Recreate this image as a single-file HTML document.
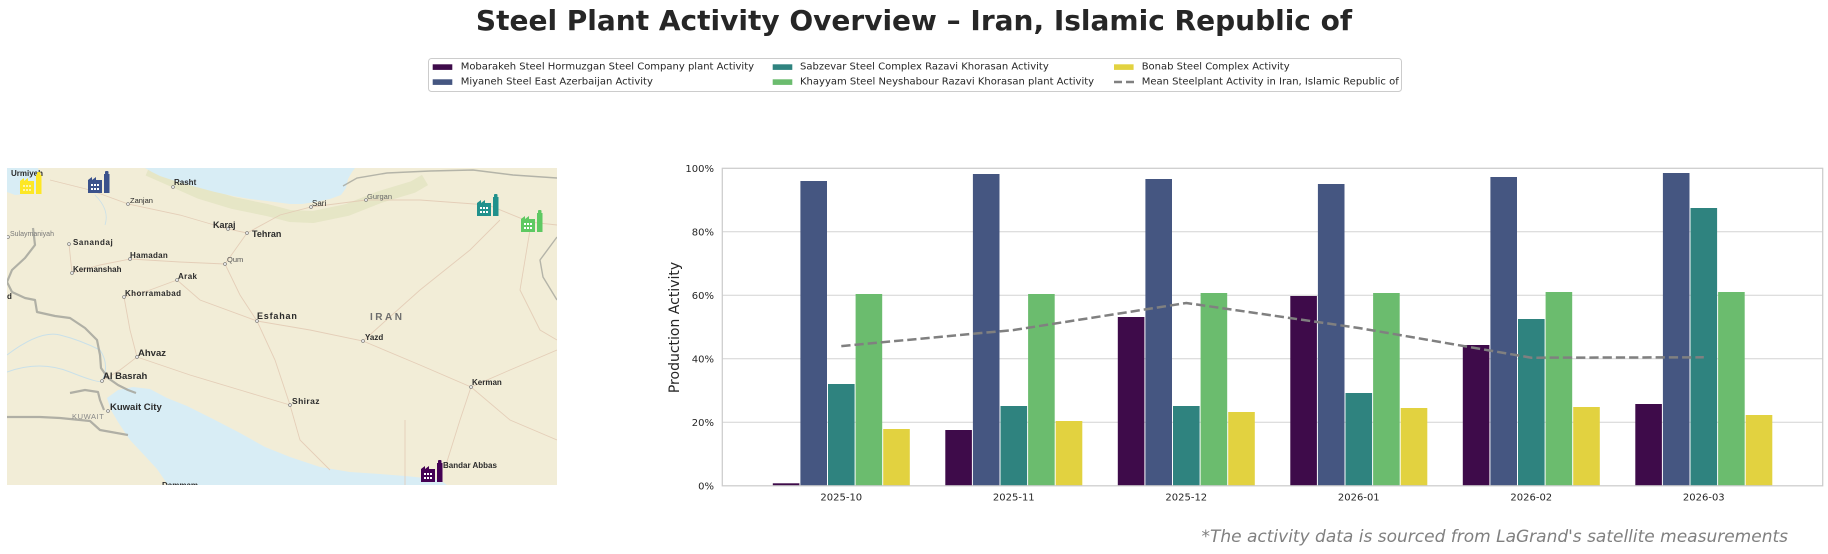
<!DOCTYPE html>
<html><head><meta charset="utf-8">
<style>
html,body{margin:0;padding:0;background:#fff;}
svg{display:block;}
text{font-family:"DejaVu Sans","Liberation Sans",sans-serif;}
.ml{font-family:"Liberation Sans","DejaVu Sans",sans-serif;font-weight:bold;fill:#2b2b2b;}
</style></head>
<body>
<svg width="1828" height="554" viewBox="0 0 1828 554" xmlns="http://www.w3.org/2000/svg">
<rect x="0" y="0" width="1828" height="554" fill="#fff"/>

<!-- Title -->
<text x="914" y="30" text-anchor="middle" font-size="28" font-weight="bold" fill="#262626">Steel Plant Activity Overview – Iran, Islamic Republic of</text>

<!-- Legend -->
<rect x="428.5" y="58.5" width="973" height="33" rx="3" ry="3" fill="#fff" stroke="#cccccc" stroke-width="1"/>
<rect x="432.7" y="64.3" width="19.6" height="5.6" fill="#3e0b4a"/>
<text x="460.7" y="69.6" font-size="10" fill="#262626">Mobarakeh Steel Hormuzgan Steel Company plant Activity</text>
<rect x="432.7" y="79.3" width="19.6" height="5.6" fill="#455681"/>
<text x="460.7" y="84.6" font-size="10" fill="#262626">Miyaneh Steel East Azerbaijan Activity</text>
<rect x="772.7" y="64.3" width="19.6" height="5.6" fill="#2f837f"/>
<text x="800" y="69.6" font-size="10" fill="#262626">Sabzevar Steel Complex Razavi Khorasan Activity</text>
<rect x="772.7" y="79.3" width="19.6" height="5.6" fill="#6bbc6e"/>
<text x="800" y="84.6" font-size="10" fill="#262626">Khayyam Steel Neyshabour Razavi Khorasan plant Activity</text>
<rect x="1114" y="64.3" width="19.6" height="5.6" fill="#e2d240"/>
<text x="1141.7" y="69.6" font-size="10" fill="#262626">Bonab Steel Complex Activity</text>
<line x1="1114" y1="82" x2="1134" y2="82" stroke="#808080" stroke-width="2.5" stroke-dasharray="8 4"/>
<text x="1141.7" y="84.6" font-size="10" fill="#262626">Mean Steelplant Activity in Iran, Islamic Republic of</text>

<!-- MAP -->
<defs>
<clipPath id="mc"><rect x="7" y="168" width="550" height="317"/></clipPath>
</defs>
<g clip-path="url(#mc)">
<rect x="7" y="168" width="550" height="317" fill="#f2edd7"/>
<!-- green band along Caspian -->
<path d="M148,170 L173,181 L200,193 L233,203 L267,210 L290,216 L313,217 L347,210 L380,197 L413,187 L425,180" fill="none" stroke="#e1e3c0" stroke-width="12" stroke-linejoin="round" opacity="0.75"/>
<!-- Caspian -->
<path d="M145,168 L152,172 L160,176 L172,180 L186,184 L200,188 L215,192 L233,196 L250,199 L267,201 L290,204 L302,204 L315,202 L330,199 L341,195 L346,188 L348,179 L352,172 L355,168 Z" fill="#d8edf5"/>
<!-- Lake Urmia -->
<path d="M7,168 L38,168 L41,178 L37,188 L28,194 L15,195 L7,192 Z" fill="#d8edf5"/>
<!-- Persian Gulf -->
<path d="M107,398 L118,390 L133,387 L150,389 L167,398 L187,406 L213,419 L240,433 L265,447 L290,457 L320,467 L350,472 L380,474 L405,476 L425,478 L440,480 L447,485 L168,485 L157,469 L145,456 L130,440 L118,422 L111,410 Z" fill="#d8edf5"/>
<!-- rivers -->
<path d="M7,355 Q40,330 60,335 T100,350 Q110,365 102,381" fill="none" stroke="#c9e0e9" stroke-width="1"/>
<path d="M7,372 Q40,360 70,372 T102,381" fill="none" stroke="#c9e0e9" stroke-width="1"/>
<path d="M95,195 Q110,210 105,225" fill="none" stroke="#c9e0e9" stroke-width="0.8"/>
<!-- roads -->
<g fill="none" stroke="#e2c9b3" stroke-width="0.9" opacity="0.85">
<path d="M247,233 L225,264 L240,295 L257,321 L275,360 L290,405 L300,440 L330,470"/>
<path d="M257,321 L310,330 L363,341 L420,365 L471,387 L460,420 L445,468"/>
<path d="M247,233 L228,229 L180,215 L128,204 L90,190 L50,180"/>
<path d="M247,233 L280,215 L311,207 L366,200 L420,200 L488,205 L530,222 L557,225"/>
<path d="M72,273 L100,265 L130,259 L180,262 L225,264"/>
<path d="M124,297 L130,330 L137,357 L120,370 L102,381"/>
<path d="M177,280 L150,290 L124,297"/>
<path d="M290,405 L240,390 L190,375 L137,357"/>
<path d="M471,387 L510,370 L557,350"/>
<path d="M471,387 L510,420 L557,440"/>
<path d="M363,341 L420,290 L470,250 L500,220"/>
<path d="M257,321 L200,300 L177,280"/>
<path d="M69,244 L72,273"/>
<path d="M405,420 L405,485"/>
<path d="M530,230 L520,290 L540,330 L557,340"/>
</g>
<!-- borders -->
<g fill="none" stroke="#a9a9a0" stroke-width="2.2" stroke-linejoin="round" opacity="0.9">
<path d="M33,228 L35,245 L25,258 L12,270 L7,282 L12,292 L25,298 L35,300 L37,312 L55,316 L70,318 L85,328 L97,340 L100,355 L101,368 L108,378 L118,385 L128,390 L136,393"/>
<path d="M7,417 L40,417 L60,418 L90,421 L100,430 L128,435"/>
<path d="M70,393 L85,390 L98,392 L100,400 L104,410"/>
</g>
<g fill="none" stroke="#a9a9a0" stroke-width="1.4" opacity="0.85">
<path d="M343,186 L357,178 L387,173 L430,171 L473,170 L513,175 L557,178"/>
<path d="M557,237 L540,260 L543,277 L557,300"/>
</g>
<!-- city markers -->
<g fill="#fff" stroke="#777" stroke-width="0.7">
<circle cx="173" cy="187" r="1.4"/><circle cx="128" cy="204" r="1.4"/><circle cx="228" cy="229" r="1.4"/>
<circle cx="247" cy="233" r="1.4"/><circle cx="8" cy="237" r="1.4"/><circle cx="69" cy="244" r="1.4"/>
<circle cx="130" cy="259" r="1.4"/><circle cx="72" cy="273" r="1.4"/><circle cx="177" cy="280" r="1.4"/>
<circle cx="225" cy="264" r="1.4"/><circle cx="124" cy="297" r="1.4"/><circle cx="257" cy="321" r="1.4"/>
<circle cx="137" cy="357" r="1.4"/><circle cx="102" cy="381" r="1.4"/><circle cx="108" cy="411" r="1.4"/>
<circle cx="311" cy="207" r="1.4"/><circle cx="366" cy="200" r="1.4"/><circle cx="363" cy="341" r="1.4"/>
<circle cx="471" cy="387" r="1.4"/><circle cx="290" cy="405" r="1.4"/>
</g>
<!-- city labels -->
<text class="ml" x="43" y="176" font-size="8" text-anchor="end">Urmiyeh</text>
<text class="ml" x="174" y="185" font-size="8">Rasht</text>
<text class="ml" x="130" y="203" font-size="7.5" style="font-weight:normal">Zanjan</text>
<text class="ml" x="213" y="228" font-size="9">Karaj</text>
<text class="ml" x="252" y="237" font-size="9">Tehran</text>
<text class="ml" x="10" y="236" font-size="7" style="font-weight:normal;fill:#777">Sulaymaniyah</text>
<text class="ml" x="73" y="245" font-size="8" letter-spacing="0.6">Sanandaj</text>
<text class="ml" x="130" y="258" font-size="8" letter-spacing="0.3">Hamadan</text>
<text class="ml" x="73" y="272" font-size="8">Kermanshah</text>
<text class="ml" x="178" y="279" font-size="8" letter-spacing="0.4">Arak</text>
<text class="ml" x="227" y="262" font-size="7.5" style="font-weight:normal;fill:#555">Qum</text>
<text class="ml" x="125" y="296" font-size="8" letter-spacing="0.4">Khorramabad</text>
<text class="ml" x="7" y="299" font-size="8">d</text>
<text class="ml" x="257" y="319" font-size="9" letter-spacing="0.8">Esfahan</text>
<text class="ml" x="370" y="320" font-size="10" letter-spacing="2.5" style="fill:#6e6e6e">IRAN</text>
<text class="ml" x="365" y="340" font-size="8">Yazd</text>
<text class="ml" x="138" y="356" font-size="9.5">Ahvaz</text>
<text class="ml" x="103" y="379" font-size="9.5">Al Basrah</text>
<text class="ml" x="472" y="385" font-size="8">Kerman</text>
<text class="ml" x="292" y="404" font-size="8.5" letter-spacing="0.4">Shiraz</text>
<text class="ml" x="110" y="410" font-size="9.5">Kuwait City</text>
<text class="ml" x="72" y="419" font-size="7.5" letter-spacing="0.6" style="font-weight:normal;fill:#888">KUWAIT</text>
<text class="ml" x="312" y="206" font-size="8" style="font-weight:normal">Sari</text>
<text class="ml" x="367" y="199" font-size="7.5" style="font-weight:normal;fill:#666">Gurgan</text>
<text class="ml" x="443" y="468" font-size="8">Bandar Abbas</text>
<text class="ml" x="162" y="488" font-size="8">Dammam</text>

<!-- factory icons -->
<g transform="translate(20,172)" fill="#fde725">
<path d="M0,22 V9 L4,6 V9 L8,6 V9 L14,9 V22 Z"/><rect x="16" y="3" width="5.5" height="19"/><rect x="17" y="0" width="3.5" height="3.5" rx="1"/>
<g fill="#fff" opacity="0.6"><rect x="3" y="13" width="2" height="2"/><rect x="6" y="13" width="2" height="2"/><rect x="9" y="13" width="2" height="2"/><rect x="3" y="17" width="2" height="2"/><rect x="6" y="17" width="2" height="2"/><rect x="9" y="17" width="2" height="2"/></g>
</g>
<g transform="translate(88,171)" fill="#3b528b">
<path d="M0,22 V9 L4,6 V9 L8,6 V9 L14,9 V22 Z"/><rect x="16" y="3" width="5.5" height="19"/><rect x="17" y="0" width="3.5" height="3.5" rx="1"/>
<g fill="#fff"><rect x="3" y="13" width="2" height="2"/><rect x="6" y="13" width="2" height="2"/><rect x="9" y="13" width="2" height="2"/><rect x="3" y="17" width="2" height="2"/><rect x="6" y="17" width="2" height="2"/><rect x="9" y="17" width="2" height="2"/></g>
</g>
<g transform="translate(477,194)" fill="#21918c">
<path d="M0,22 V9 L4,6 V9 L8,6 V9 L14,9 V22 Z"/><rect x="16" y="3" width="5.5" height="19"/><rect x="17" y="0" width="3.5" height="3.5" rx="1"/>
<g fill="#fff"><rect x="3" y="13" width="2" height="2"/><rect x="6" y="13" width="2" height="2"/><rect x="9" y="13" width="2" height="2"/><rect x="3" y="17" width="2" height="2"/><rect x="6" y="17" width="2" height="2"/><rect x="9" y="17" width="2" height="2"/></g>
</g>
<g transform="translate(521,210)" fill="#5ec962">
<path d="M0,22 V9 L4,6 V9 L8,6 V9 L14,9 V22 Z"/><rect x="16" y="3" width="5.5" height="19"/><rect x="17" y="0" width="3.5" height="3.5" rx="1"/>
<g fill="#fff"><rect x="3" y="13" width="2" height="2"/><rect x="6" y="13" width="2" height="2"/><rect x="9" y="13" width="2" height="2"/><rect x="3" y="17" width="2" height="2"/><rect x="6" y="17" width="2" height="2"/><rect x="9" y="17" width="2" height="2"/></g>
</g>
<g transform="translate(421,460)" fill="#440154">
<path d="M0,22 V9 L4,6 V9 L8,6 V9 L14,9 V22 Z"/><rect x="16" y="3" width="5.5" height="19"/><rect x="17" y="0" width="3.5" height="3.5" rx="1"/>
<g fill="#fff"><rect x="3" y="13" width="2" height="2"/><rect x="6" y="13" width="2" height="2"/><rect x="9" y="13" width="2" height="2"/><rect x="3" y="17" width="2" height="2"/><rect x="6" y="17" width="2" height="2"/><rect x="9" y="17" width="2" height="2"/></g>
</g>
</g>

<!-- CHART -->
<!-- gridlines -->
<g stroke="#d4d4d4" stroke-width="1">
<line x1="722.3" y1="422.3" x2="1822.7" y2="422.3"/>
<line x1="722.3" y1="358.8" x2="1822.7" y2="358.8"/>
<line x1="722.3" y1="295.3" x2="1822.7" y2="295.3"/>
<line x1="722.3" y1="231.8" x2="1822.7" y2="231.8"/>
</g>

<!-- bars -->
<g>
<!-- G1 -->
<rect x="772.8" y="483.3" width="26.6" height="2.5" fill="#3e0b4a"/>
<rect x="800.4" y="181" width="26.6" height="304.8" fill="#455681"/>
<rect x="828.0" y="384" width="26.6" height="101.8" fill="#2f837f"/>
<rect x="855.6" y="294" width="26.6" height="191.8" fill="#6bbc6e"/>
<rect x="883.2" y="429" width="26.6" height="56.8" fill="#e2d240"/>
<!-- G2 -->
<rect x="945.3" y="430" width="26.6" height="55.8" fill="#3e0b4a"/>
<rect x="972.9" y="174" width="26.6" height="311.8" fill="#455681"/>
<rect x="1000.5" y="406" width="26.6" height="79.8" fill="#2f837f"/>
<rect x="1028.1" y="294" width="26.6" height="191.8" fill="#6bbc6e"/>
<rect x="1055.7" y="421" width="26.6" height="64.8" fill="#e2d240"/>
<!-- G3 -->
<rect x="1117.8" y="317" width="26.6" height="168.8" fill="#3e0b4a"/>
<rect x="1145.4" y="179" width="26.6" height="306.8" fill="#455681"/>
<rect x="1173.0" y="406" width="26.6" height="79.8" fill="#2f837f"/>
<rect x="1200.6" y="293" width="26.6" height="192.8" fill="#6bbc6e"/>
<rect x="1228.2" y="412" width="26.6" height="73.8" fill="#e2d240"/>
<!-- G4 -->
<rect x="1290.3" y="296" width="26.6" height="189.8" fill="#3e0b4a"/>
<rect x="1317.9" y="184" width="26.6" height="301.8" fill="#455681"/>
<rect x="1345.5" y="393" width="26.6" height="92.8" fill="#2f837f"/>
<rect x="1373.1" y="293" width="26.6" height="192.8" fill="#6bbc6e"/>
<rect x="1400.7" y="408" width="26.6" height="77.8" fill="#e2d240"/>
<!-- G5 -->
<rect x="1462.8" y="345" width="26.6" height="140.8" fill="#3e0b4a"/>
<rect x="1490.4" y="177" width="26.6" height="308.8" fill="#455681"/>
<rect x="1518.0" y="319" width="26.6" height="166.8" fill="#2f837f"/>
<rect x="1545.6" y="292" width="26.6" height="193.8" fill="#6bbc6e"/>
<rect x="1573.2" y="407" width="26.6" height="78.8" fill="#e2d240"/>
<!-- G6 -->
<rect x="1635.3" y="404" width="26.6" height="81.8" fill="#3e0b4a"/>
<rect x="1662.9" y="173" width="26.6" height="312.8" fill="#455681"/>
<rect x="1690.5" y="208" width="26.6" height="277.8" fill="#2f837f"/>
<rect x="1718.1" y="292" width="26.6" height="193.8" fill="#6bbc6e"/>
<rect x="1745.7" y="415" width="26.6" height="70.8" fill="#e2d240"/>
</g>

<!-- mean line -->
<polyline points="841.3,346.1 1013.8,330 1186.3,303 1358.8,328 1531.3,357.7 1703.8,357.3" fill="none" stroke="#808080" stroke-width="2.5" stroke-dasharray="9.25 4"/>

<!-- spines -->
<rect x="722.3" y="168.3" width="1100.4" height="317.5" fill="none" stroke="#cccccc" stroke-width="1.25"/>

<!-- y tick labels -->
<g font-size="10" fill="#262626" text-anchor="end">
<text x="714" y="171.9">100%</text>
<text x="714" y="235.4">80%</text>
<text x="714" y="298.9">60%</text>
<text x="714" y="362.4">40%</text>
<text x="714" y="425.9">20%</text>
<text x="714" y="489.4">0%</text>
</g>
<!-- x tick labels -->
<g font-size="10" fill="#262626" text-anchor="middle">
<text x="841.3" y="500.6">2025-10</text>
<text x="1013.8" y="500.6">2025-11</text>
<text x="1186.3" y="500.6">2025-12</text>
<text x="1358.8" y="500.6">2026-01</text>
<text x="1531.3" y="500.6">2026-02</text>
<text x="1703.8" y="500.6">2026-03</text>
</g>
<!-- y axis label -->
<text x="0" y="0" font-size="14" fill="#262626" text-anchor="middle" transform="translate(679,327.5) rotate(-90)">Production Activity</text>

<!-- footer -->
<text x="1788" y="542" font-size="17" font-style="italic" fill="#808080" text-anchor="end">*The activity data is sourced from LaGrand's satellite measurements</text>
</svg>
</body></html>
